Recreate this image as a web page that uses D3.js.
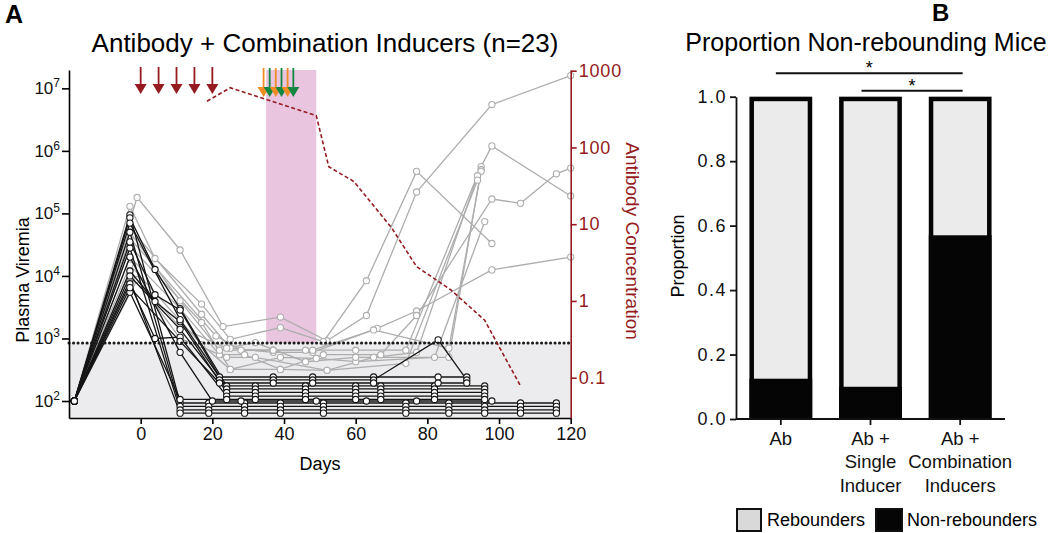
<!DOCTYPE html>
<html><head><meta charset="utf-8">
<script src="https://cdn.jsdelivr.net/npm/d3@7"></script>
<style>
body{margin:0;background:#fff;}
svg text{font-family:"Liberation Sans",Arial,Helvetica,sans-serif;}
</style></head><body>
<svg id="c" width="1050" height="533"></svg>
<script>
// ---------------- data ----------------
const dayTicks = [0,20,40,60,80,100,120];
const viremiaTicks = [1e2,1e3,1e4,1e5,1e6,1e7];
const antibodyTicks = [0.1,1,10,100,1000];
const antibodyTickLabels = ["0.1","1","10","100","1000"];
const detectionLimit = 850;
const antibodyDoseDays = [0,5,10,15,20];
const inducerDays = [34.3,36,37.7,39.3,41,42.6];
const inducerKinds = ["A","B","A","B","A","B"];
const inducerWindow = [35,49];
const antibodyDays = [18.5,25,49,52.5,59.5,70,77,86.5,96,106];
const antibodyConc = [400,600,260,56,36,9,2.8,1.4,0.56,0.078];

// rebounding mice (grey) : [day, copies/ml]
const rebounders = [
 [[-18.5,100],[-1,180000],[11,26000],[23,1550],[39,2200],[52,920],[63,2330],[77,220000],[98,5.5e6],[120,1.6e7]],
 [[-18.5,100],[-3,130000],[4,19000],[17,3550],[25,970],[39,1490],[51,890],[63,8400],[77,470000],[98,33000]],
 [[-18.5,100],[-3,60000],[17,2440],[25,700],[37,600],[48,600],[66,1450],[77,2750],[98,12500],[120,20000]],
 [[-18.5,100],[-3,40000],[21,1100],[28,650],[37,650],[46,650],[60,650],[74,650],[95,560000],[98,1200000],[120,190000]],
 [[-18.5,100],[-3,20000],[11,3000],[22,550],[29,550],[39,320],[51,550],[67,550],[77,2330],[98,170000],[106,145000],[116,430000],[120,530000]],
 [[-18.5,100],[-3,15000],[17,800],[25,320],[39,500],[49,480],[60,425],[82,500],[96,74000]],
 [[-18.5,100],[-3,12000],[11,1500],[24,700],[32,860],[46,425],[60,500],[86,500],[95,500000]],
 [[-18.5,100],[-3,50000],[11,4000],[22,650],[37,650],[48,650],[65,1370],[86,700],[95,470000]],
 [[-18.5,100],[-1,8700],[11,1000],[24,500],[32,500],[52,310],[65,500],[77,600],[94,400000]],
 [[-18.5,100],[-3,30000],[17,1800],[25,320],[39,320],[52,310],[74,400],[94,340000]]
];
// non-rebounding mice (black)
const nonRebounders = [
 [[-18.5,100],[-3,95000],[11,93],[19,93],[29,93],[39,93],[51,93],[74,93],[86,93],[96,93],[106,93],[116,93]],
 [[-18.5,100],[-3,50000],[11,82],[19,82],[29,82],[39,82],[51,82],[74,82],[86,82],[96,82],[106,82],[116,82]],
 [[-18.5,100],[-3,28000],[11,72],[19,72],[29,72],[39,72],[51,72],[74,72],[86,72],[96,72],[106,72],[116,72]],
 [[-18.5,100],[-3,8500],[11,64],[19,64],[29,64],[39,64],[51,64],[74,64],[86,64],[96,64],[106,64],[116,64]],
 [[-18.5,100],[-3,85000],[4,12700],[11,3000],[24,174],[32,174],[46,174],[60,174],[67,174],[82,174],[96,174]],
 [[-18.5,100],[-3,35000],[4,5000],[11,2850],[24,156],[32,156],[46,156],[60,156],[67,156],[82,156],[96,156]],
 [[-18.5,100],[-3,12000],[4,3900],[11,1860],[24,137],[32,137],[46,137],[60,137],[67,137],[82,137],[96,137]],
 [[-18.5,100],[-3,7500],[4,1000],[11,1050],[24,120],[32,120],[46,120],[60,120],[67,120],[82,120],[96,120]],
 [[-18.5,100],[-3,5500],[11,106],[24,106],[32,106],[46,106],[60,106],[67,106],[82,106],[96,106]],
 [[-18.5,100],[-3,70000],[11,2000],[22,242],[37,242],[48,242],[65,242],[83,242],[91,242]],
 [[-18.5,100],[-3,10000],[11,1400],[22,217],[37,217],[48,217],[65,217],[83,950],[91,217]],
 [[-18.5,100],[-3,6500],[11,900],[22,194],[37,194],[48,194],[65,194],[83,194],[91,194]],
 [[-18.5,100],[-3,20000],[11,600],[20,100],[28,100],[49,100],[63,100],[77,100],[98,100]]
];

const groups = ["Ab","Ab + Single Inducer","Ab + Combination Inducers"];
const groupLabelLines = [["Ab"],["Ab +","Single","Inducer"],["Ab +","Combination","Inducers"]];
const nonReboundProp = [0.125,0.1,0.57];
const propTicks = [0,0.2,0.4,0.6,0.8,1.0];
const comparisons = [[0,2],[1,2]];
const legendLabels = ["Rebounders","Non-rebounders"];

// ---------------- styles ----------------
const RED = "#951b20", ORANGE = "#f08c25", GREEN = "#138843";
const GREY_LINE = "#adadad";
const svg = d3.select("#c");

// ---------------- panel A ----------------
const x = d3.scaleLinear().domain([-20,120]).range([69,570.7]);
const yV = d3.scaleLog().domain([53.5,1.964e7]).range([418,70]);
const yA = d3.scaleLog().domain([0.02985,1021]).range([418,70]);
const lodY = yV(detectionLimit);

// grey below-detection band
svg.append("rect").attr("x",x(-20)).attr("y",lodY).attr("width",x(120)-x(-20)).attr("height",yV.range()[0]-lodY).attr("fill","#ececee");
// inducer window
svg.append("rect").attr("x",x(inducerWindow[0])).attr("y",70).attr("width",x(inducerWindow[1])-x(inducerWindow[0])).attr("height",lodY-70).attr("fill","#e9c5df");

const line = d3.line().x(d=>x(d[0])).y(d=>yV(d[1]));
function drawMice(data,color){
  const g = svg.append("g");
  data.forEach(m=>{
    g.append("path").attr("d",line(m)).attr("fill","none").attr("stroke",color).attr("stroke-width",1.3);
  });
  data.forEach(m=>{
    g.selectAll(null).data(m).join("circle").attr("cx",d=>x(d[0])).attr("cy",d=>yV(d[1])).attr("r",3.1)
      .attr("fill","#fff").attr("stroke",color).attr("stroke-width",1.1);
  });
}
drawMice(rebounders,GREY_LINE);
drawMice(nonRebounders,"#151515");

// detection limit
svg.append("line").attr("x1",x(-20)).attr("x2",x(120)).attr("y1",lodY).attr("y2",lodY)
  .attr("stroke","#1a1a1a").attr("stroke-width",3).attr("stroke-dasharray","0.1,4.4").attr("stroke-linecap","round");

// antibody concentration
const abLine = d3.line().x(d=>x(d[0])).y(d=>yA(d[1]));
svg.append("path").attr("d",abLine(antibodyDays.map((d,i)=>[d,antibodyConc[i]])))
  .attr("fill","none").attr("stroke",RED).attr("stroke-width",1.6).attr("stroke-dasharray","4,2.5");

// arrows
function arrow(day,color,top,bot){
  const cx = x(day);
  svg.append("line").attr("x1",cx).attr("x2",cx).attr("y1",top).attr("y2",bot-9).attr("stroke",color).attr("stroke-width",1.8);
  svg.append("path").attr("d",`M${cx-6},${bot-10}L${cx+6},${bot-10}L${cx},${bot}Z`).attr("fill",color);
}
antibodyDoseDays.forEach(d=>arrow(d,RED,67,94));
inducerDays.forEach((d,i)=>arrow(d,inducerKinds[i]==="A"?ORANGE:GREEN,68,97));

// axes
const ax = svg.append("g").attr("transform",`translate(0,${yV.range()[0]})`)
  .call(d3.axisBottom(x).tickValues(dayTicks).tickSize(6).tickSizeOuter(0).tickPadding(3));
ax.selectAll("text").attr("font-size","18px").attr("fill","#111");

const ay = svg.append("g").attr("transform",`translate(${x(-20)},0)`)
  .call(d3.axisLeft(yV).tickValues(viremiaTicks).tickSize(7).tickSizeOuter(0).tickPadding(2).tickFormat(()=>""));
ay.selectAll(".tick text").each(function(d){
  const t = d3.select(this);
  t.text(null).attr("font-size","17px").attr("fill","#111");
  t.append("tspan").text("10");
  t.append("tspan").attr("dy","-0.6em").attr("font-size","12px").text(Math.round(Math.log10(d)));
});

const ar = svg.append("g").attr("transform",`translate(${x(120)},0)`)
  .call(d3.axisRight(yA).tickValues(antibodyTicks).tickSize(6).tickSizeOuter(0).tickPadding(2)
  .tickFormat((d,i)=>antibodyTickLabels[i]));
ar.selectAll("text").attr("font-size","18px").attr("fill",RED).attr("letter-spacing","0.8px");
ar.selectAll("line,path").attr("stroke",RED);

[ax,ay,ar].forEach(g=>g.selectAll("path,line").attr("stroke-width",1.6));

// labels
svg.append("text").attr("x",5).attr("y",23).attr("font-size","25px").attr("font-weight","bold").text("A");
svg.append("text").attr("x",325).attr("y",52).attr("text-anchor","middle").attr("font-size","26px").text("Antibody + Combination Inducers (n=23)");
svg.append("text").attr("x",320).attr("y",470).attr("text-anchor","middle").attr("font-size","18px").text("Days");
svg.append("text").attr("transform","translate(29,280) rotate(-90)").attr("text-anchor","middle").attr("font-size","18px").text("Plasma Viremia");
svg.append("text").attr("transform","translate(626,241) rotate(90)").attr("text-anchor","middle").attr("font-size","19px").attr("fill",RED).text("Antibody Concentration");

// ---------------- panel B ----------------
const xb = d3.scaleBand().domain(groups).range([736,1005]).paddingInner(0.3).paddingOuter(0.15);
const yb = d3.scaleLinear().domain([0,1]).range([419,96.7]);
const bw = 4.5;
const bars = svg.append("g");
groups.forEach((g,i)=>{
  const bx = xb(g);
  bars.append("rect").attr("x",bx).attr("y",yb(1)).attr("width",xb.bandwidth()).attr("height",yb(0)-yb(1)).attr("fill","#ebebeb");
  bars.append("rect").attr("x",bx).attr("y",yb(nonReboundProp[i])).attr("width",xb.bandwidth()).attr("height",yb(0)-yb(nonReboundProp[i])).attr("fill","#050505");
  bars.append("rect").attr("x",bx+bw/2).attr("y",yb(1)+bw/2).attr("width",xb.bandwidth()-bw).attr("height",yb(0)-yb(1)-bw)
    .attr("fill","none").attr("stroke","#050505").attr("stroke-width",bw);
});

const bxAxis = svg.append("g").attr("transform",`translate(0,${yb(0)})`)
  .call(d3.axisBottom(xb).tickSize(6).tickSizeOuter(0).tickFormat(()=>""));
bxAxis.select(".domain").attr("d",`M736,0H1005`);
bxAxis.selectAll(".tick").each(function(d,i){
  const t = d3.select(this).append("text").attr("fill","#111").attr("font-size","18.5px").attr("text-anchor","middle");
  groupLabelLines[i].forEach((s,k)=>t.append("tspan").attr("x",0).attr("y",26+k*23.3).text(s));
});
const byAxis = svg.append("g").attr("transform","translate(736,0)")
  .call(d3.axisLeft(yb).tickValues(propTicks).tickSize(6).tickSizeOuter(0).tickPadding(3).tickFormat(d3.format(".1f")));
byAxis.selectAll("text").attr("font-size","18px").attr("fill","#111").attr("letter-spacing","1.5px");
[bxAxis,byAxis].forEach(g=>g.selectAll("path,line").attr("stroke","#111").attr("stroke-width",1.8));

// significance
comparisons.forEach((c,k)=>{
  const x1 = xb(groups[c[0]])+xb.bandwidth()/2 - (k===0?5:9);
  const x2 = xb(groups[c[1]])+xb.bandwidth()/2 + 2.5;
  const yy = k===0?73.3:90.7;
  svg.append("line").attr("x1",x1).attr("x2",x2).attr("y1",yy).attr("y2",yy).attr("stroke","#111").attr("stroke-width",2);
  svg.append("text").attr("x",(x1+x2)/2).attr("y",yy+1).attr("text-anchor","middle").attr("font-size","18px").text("*");
});

svg.append("text").attr("x",932).attr("y",21).attr("font-size","24px").attr("font-weight","bold").text("B");
svg.append("text").attr("x",866).attr("y",51).attr("text-anchor","middle").attr("font-size","25px").text("Proportion Non-rebounding Mice");
svg.append("text").attr("transform","translate(684,256) rotate(-90)").attr("text-anchor","middle").attr("font-size","18px").text("Proportion");

// legend
const lg = svg.append("g");
lg.append("rect").attr("x",737).attr("y",509).attr("width",24).attr("height",22).attr("fill","#d9d9d9").attr("stroke","#111").attr("stroke-width",2);
lg.append("text").attr("x",767).attr("y",526).attr("font-size","18px").text(legendLabels[0]);
lg.append("rect").attr("x",876).attr("y",509).attr("width",26).attr("height",22).attr("fill","#050505").attr("stroke","#111").attr("stroke-width",2);
lg.append("text").attr("x",907).attr("y",526).attr("font-size","18px").text(legendLabels[1]);
</script></body></html>
